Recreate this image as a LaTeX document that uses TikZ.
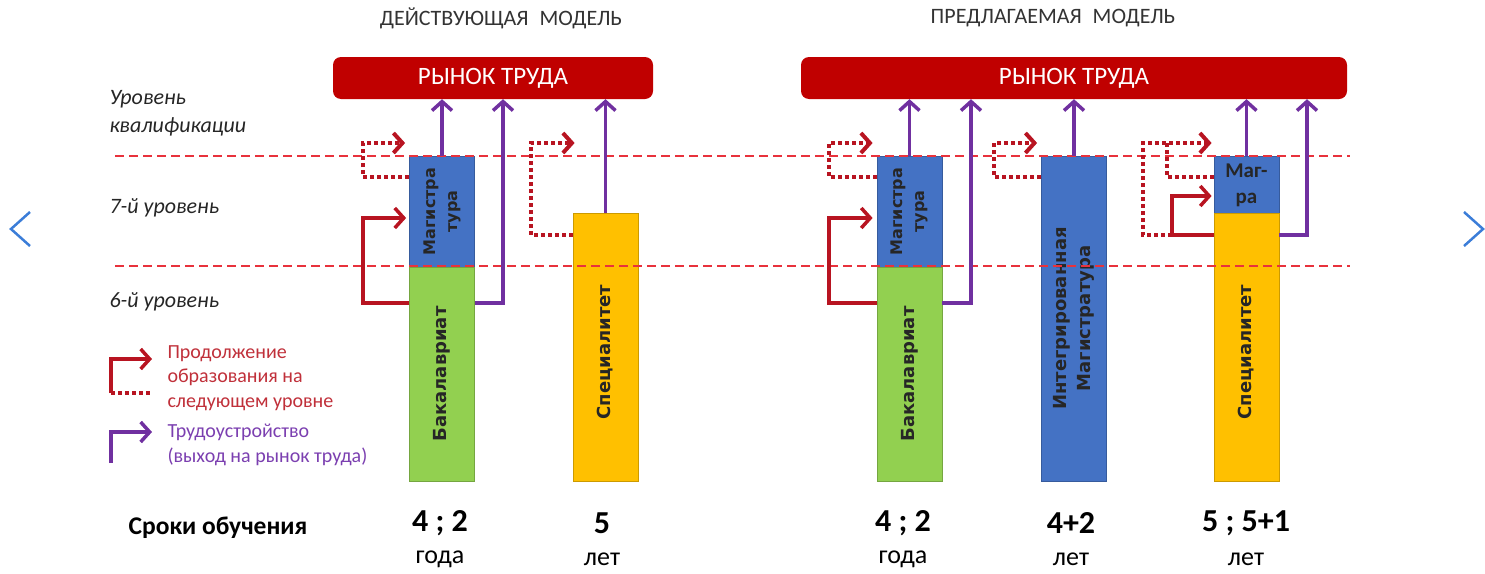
\documentclass[tikz,border=0pt]{standalone}
\usepackage{xcolor}
\usepackage{fontspec}
\setmainfont{Carlito}
\newfontfamily\barfont{DejaVu Sans}
\usepackage{tikz}
\usetikzlibrary{arrows.meta}

\definecolor{cmarket}{HTML}{C00000}
\definecolor{clevel}{HTML}{E8323C}
\definecolor{ccont}{HTML}{B81421}
\definecolor{cjob}{HTML}{7030A0}
\definecolor{cmag}{HTML}{4472C4}
\definecolor{cbac}{HTML}{92D050}
\definecolor{cspec}{HTML}{FFC000}
\definecolor{cnav}{HTML}{3B7DD8}
\definecolor{ccontTxt}{HTML}{C0303A}
\definecolor{cjobTxt}{HTML}{7B3FB0}

\begin{document}
\begin{tikzpicture}[x=1pt,y=-1pt,
    market/.style={fill=cmarket, rounded corners=8pt, minimum height=42pt, inner sep=0pt, text=white, font=\fontsize{25}{28}\selectfont},
    bar/.style={draw=#1!80!black, fill=#1, line width=0.8pt, minimum width=65pt, inner sep=0pt},
    bartext/.style={rotate=90, align=center, text=black!85, font=\barfont\bfseries\fontsize{18}{24}\selectfont},
    levelline/.style={draw=clevel, line width=2pt, dash pattern=on 9pt off 5pt},
    tip/.style={-{Straight Barb[length=9pt,width=20pt]}},
    contarrow/.style={draw=ccont, line width=3.5pt, tip},
    contdots/.style={draw=ccont, line width=4pt, dash pattern=on 4pt off 3pt},
    jobarrow/.style={draw=cjob, line width=3.5pt, tip},
    title/.style={text=black!80, font=\fontsize{22}{26}\selectfont},
    lvltext/.style={anchor=west, align=left, text=black!85, font=\itshape\fontsize{22}{28}\selectfont},
    legtext/.style={anchor=west, align=left, font=\fontsize{20}{24.5}\selectfont},
    years/.style={text=black, font=\bfseries\fontsize{32}{36}\selectfont},
    yearunit/.style={text=black, font=\fontsize{26}{30}\selectfont},
    navline/.style={draw=cnav, line width=2.5pt}
]
    \useasboundingbox (0,0) rectangle (1485,573);

    \node[title] (titleL) at (501,18) {ДЕЙСТВУЮЩАЯ\enspace МОДЕЛЬ};
    \node[title] (titleR) at (1053,18) {ПРЕДЛАГАЕМАЯ\enspace МОДЕЛЬ};

    \node[market, minimum width=320pt] (rynokL) at (493,78) {РЫНОК ТРУДА};
    \node[market, minimum width=546pt] (rynokR) at (1074,78) {РЫНОК ТРУДА};

    \node[lvltext] (lvlQ) at (106,113) {Уровень\\квалификации};
    \node[lvltext] (lvl7) at (106,208) {7-й уровень};
    \node[lvltext] (lvl6) at (106,302) {6-й уровень};

    \node[bar=cmag, minimum height=111pt] (magL) at (442,211.5) {};
    \node[bar=cbac, minimum height=214pt] (bacL) at (442,374) {};
    \node[bar=cspec, minimum height=268pt] (specL) at (605.5,347) {};

    \node[bar=cmag, minimum height=111pt] (magR) at (909.5,211.5) {};
    \node[bar=cbac, minimum height=214pt] (bacR) at (909.5,374) {};
    \node[bar=cmag, minimum height=325pt] (intR) at (1074,318.5) {};
    \node[bar=cmag, minimum height=57pt] (magraR) at (1246.5,184.5) {};
    \node[bar=cspec, minimum height=268pt] (specR) at (1246.5,347) {};

    \node[bartext, font=\barfont\bfseries\fontsize{16}{22}\selectfont] (tMagL) at (magL) {Магистра\\тура};
    \node[bartext] (tBacL) at (bacL) {Бакалавриат};
    \node[bartext] (tSpecL) at ([yshift=-5pt]specL) {Специалитет};
    \node[bartext, font=\barfont\bfseries\fontsize{16}{22}\selectfont] (tMagR) at (magR) {Магистра\\тура};
    \node[bartext] (tBacR) at (bacR) {Бакалавриат};
    \node[bartext] (tIntR) at (intR) {Интегрированная\\Магистратура};
    \node[bartext] (tSpecR) at ([yshift=-5pt]specR) {Специалитет};
    \node[text=black!85, align=center, font=\bfseries\fontsize{21}{26}\selectfont] (tMagraR) at ([yshift=-1pt]magraR) {Маг-\\ра};

    \draw[levelline] (115,156) -- (1350,156);
    \draw[levelline] (115,266) -- (1350,266);

    \coordinate (jobL) at (503,303);
    \coordinate (contL) at (363,218);
    \coordinate (dotL) at (363,143);
    \coordinate (dotLb) at (363,177);
    \coordinate (dotS) at (531,143);
    \coordinate (dotSb) at (531,235);

    \draw[jobarrow] (magL.north) -- (magL.north |- rynokL.south);
    \draw[jobarrow] (bacL.east |- jobL) -- (jobL) -- (jobL |- rynokL.south);
    \draw[jobarrow] (specL.north) -- (specL.north |- rynokL.south);
    \draw[contarrow, shorten >=3pt] (bacL.west |- jobL) -| (contL) -- (contL -| magL.west);
    \draw[contdots, tip, shorten >=4pt] (magL.west |- dotLb) -- (dotLb) -- (dotL) -- (dotL -| magL.west);
    \draw[contdots, tip] (specL.west |- dotSb) -- (dotSb) -- (dotS) -- ([xshift=2pt]dotS -| specL.west);

    \coordinate (jobR) at (971,303);
    \coordinate (jobS) at (1307,235);
    \coordinate (contR) at (829,218);
    \coordinate (dotR) at (829,143);
    \coordinate (dotRb) at (829,177);
    \coordinate (dotI) at (994,143);
    \coordinate (dotIb) at (994,177);
    \coordinate (dotO) at (1143,143);
    \coordinate (dotOb) at (1143,235);
    \coordinate (dotM) at (1167,143);
    \coordinate (dotMb) at (1167,177);
    \coordinate (contS) at (1172,196);

    \draw[jobarrow] (magR.north) -- (magR.north |- rynokR.south);
    \draw[jobarrow] (bacR.east |- jobR) -- (jobR) -- (jobR |- rynokR.south);
    \draw[jobarrow] (intR.north) -- (intR.north |- rynokR.south);
    \draw[jobarrow] (magraR.north) -- (magraR.north |- rynokR.south);
    \draw[jobarrow] (specR.east |- jobS) -- (jobS) -- (jobS |- rynokR.south);
    \draw[contarrow, shorten >=4pt] (bacR.west |- jobR) -| (contR) -- (contR -| magR.west);
    \draw[contdots, tip, shorten >=4pt] (magR.west |- dotRb) -- (dotRb) -- (dotR) -- (dotR -| magR.west);
    \draw[contdots, tip, shorten >=4pt] (intR.west |- dotIb) -- (dotIb) -- (dotI) -- (dotI -| intR.west);
    \draw[contdots, tip, shorten >=2pt] (specR.west |- dotOb) -- (dotOb) -- (dotO) -- (dotO -| magraR.west);
    \draw[contdots] (magraR.west |- dotMb) -- (dotMb) -- (dotM);
    \draw[contarrow, shorten >=2pt] (specR.west |- dotOb) -| (contS) -- (contS -| magraR.west);

    \coordinate (legC) at (111,393);
    \coordinate (legJ) at (111,463);
    \draw[contarrow] (legC) -- ++(0,-34) -- ++(41,0);
    \draw[contdots] (legC) -- ++(41,0);
    \draw[jobarrow] (legJ) -- ++(0,-31) -- ++(41,0);
    \node[legtext, text=ccontTxt] (legCtext) at (164,378) {Продолжение\\образования на\\следующем уровне};
    \node[legtext, text=cjobTxt] (legJtext) at (164,445) {Трудоустройство\\(выход на рынок труда)};

    \node[font=\bfseries\fontsize{25.5}{28}\selectfont] (sroki) at (218,528) {Сроки обучения};
    \node[years] (yBacL) at (440,523) {4 ; 2};
    \node[yearunit] (uBacL) at (440,559) {года};
    \node[years] (ySpecL) at (602,523) {5};
    \node[yearunit] (uSpecL) at (602,559) {лет};
    \node[years] (yBacR) at (903,523) {4 ; 2};
    \node[yearunit] (uBacR) at (903,559) {года};
    \node[years] (yIntR) at (1071,523) {4+2};
    \node[yearunit] (uIntR) at (1071,559) {лет};
    \node[years] (ySpecR) at (1246,523) {5 ; 5+1};
    \node[yearunit] (uSpecR) at (1246,559) {лет};

    \draw[navline] (30,212) -- (11,229) -- (30,246);
    \draw[navline] (1464,212) -- (1483,229) -- (1464,246);
\end{tikzpicture}
\end{document}
